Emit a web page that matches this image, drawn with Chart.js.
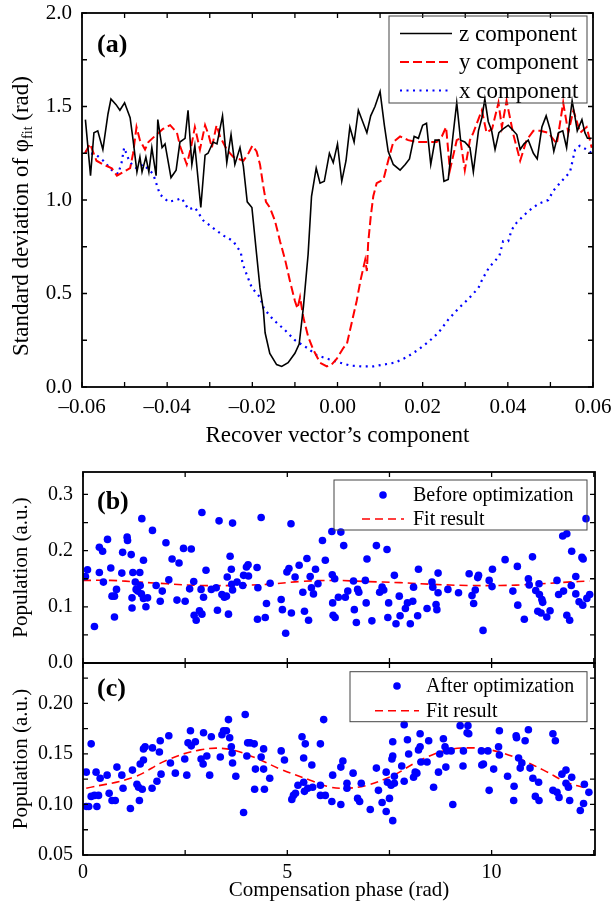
<!DOCTYPE html>
<html>
<head>
<meta charset="utf-8">
<script src="https://cdn.jsdelivr.net/npm/chart.js@4.4.1/dist/chart.umd.min.js"></script>
<style>
  html, body { margin: 0; padding: 0; background: #fff; }
  #page { position: relative; width: 611px; height: 903px; overflow: hidden; }
  canvas { position: absolute; left: 0; }
</style>
</head>
<body>
<div id="page">
  <canvas id="chartA" width="611" height="450" style="top:0px"></canvas>
  <canvas id="chartB" width="611" height="220" style="top:450px"></canvas>
  <canvas id="chartC" width="611" height="263" style="top:640px"></canvas>
</div>
<script>
// ---- panel (a): standard deviation vs recover vector's component ----
const zComponent = [
  [-0.0592,1.43],[-0.0580,1.13],[-0.0572,1.36],[-0.0563,1.37],[-0.0551,1.27],[-0.0539,1.46],[-0.0532,1.54],
  [-0.0520,1.51],[-0.0511,1.48],[-0.0500,1.52],[-0.0487,1.44],[-0.0480,1.32],[-0.0471,1.15],[-0.0464,1.23],
  [-0.0459,1.15],[-0.0450,1.23],[-0.0443,1.15],[-0.0436,1.28],[-0.0426,1.13],[-0.0422,1.43],[-0.0412,1.28],
  [-0.0405,1.30],[-0.0391,1.12],[-0.0379,1.16],[-0.0370,1.31],[-0.0358,1.33],[-0.0351,1.48],[-0.0342,1.19],
  [-0.0335,1.29],[-0.0321,0.96],[-0.0311,1.24],[-0.0304,1.25],[-0.0292,1.31],[-0.0283,1.30],[-0.0270,1.45],
  [-0.0260,1.20],[-0.0250,1.35],[-0.0241,1.19],[-0.0229,1.28],[-0.0221,1.18],[-0.0212,0.99],[-0.0201,0.96],
  [-0.0190,0.71],[-0.0182,0.53],[-0.0174,0.41],[-0.0170,0.29],[-0.0159,0.18],[-0.0143,0.12],[-0.0131,0.11],
  [-0.0116,0.13],[-0.0100,0.18],[-0.0090,0.23],[-0.0080,0.43],[-0.0069,0.71],[-0.0061,1.02],[-0.0050,1.17],
  [-0.0041,1.09],[-0.0031,1.10],[-0.0019,1.25],[-0.0010,1.20],[0.0000,1.30],[0.0010,1.10],[0.0020,1.21],
  [0.0029,1.39],[0.0039,1.31],[0.0049,1.48],[0.0059,1.42],[0.0069,1.36],[0.0078,1.45],[0.0088,1.50],
  [0.0100,1.58],[0.0110,1.40],[0.0119,1.26],[0.0131,1.19],[0.0147,1.16],[0.0159,1.19],[0.0169,1.22],
  [0.0180,1.34],[0.0190,1.33],[0.0200,1.40],[0.0209,1.41],[0.0219,1.19],[0.0229,1.32],[0.0239,1.32],
  [0.0250,1.10],[0.0260,1.11],[0.0271,1.34],[0.0280,1.52],[0.0289,1.32],[0.0299,1.31],[0.0311,1.28],
  [0.0319,1.15],[0.0331,1.37],[0.0339,1.44],[0.0346,1.54],[0.0354,1.42],[0.0362,1.37],[0.0370,1.27],
  [0.0379,1.36],[0.0389,1.38],[0.0401,1.40],[0.0413,1.37],[0.0421,1.35],[0.0429,1.27],[0.0438,1.30],
  [0.0448,1.32],[0.0460,1.25],[0.0469,1.22],[0.0480,1.39],[0.0490,1.45],[0.0499,1.38],[0.0508,1.26],
  [0.0519,1.36],[0.0529,1.37],[0.0538,1.28],[0.0546,1.44],[0.0551,1.53],[0.0558,1.44],[0.0563,1.37],
  [0.0574,1.43],[0.0581,1.36],[0.0587,1.33],[0.0597,1.33]
];
const yComponent = [
  [-0.0593,1.25],[-0.0581,1.30],[-0.0566,1.21],[-0.0550,1.19],[-0.0530,1.17],[-0.0518,1.13],[-0.0503,1.15],
  [-0.0487,1.17],[-0.0480,1.25],[-0.0472,1.39],[-0.0464,1.32],[-0.0452,1.27],[-0.0444,1.31],[-0.0425,1.35],
  [-0.0410,1.38],[-0.0393,1.40],[-0.0377,1.36],[-0.0370,1.29],[-0.0354,1.19],[-0.0344,1.28],[-0.0335,1.39],
  [-0.0323,1.27],[-0.0311,1.40],[-0.0303,1.35],[-0.0295,1.28],[-0.0284,1.40],[-0.0276,1.34],[-0.0260,1.27],
  [-0.0245,1.23],[-0.0221,1.21],[-0.0209,1.25],[-0.0200,1.29],[-0.0190,1.26],[-0.0182,1.19],[-0.0174,1.07],
  [-0.0168,0.99],[-0.0159,0.96],[-0.0147,0.89],[-0.0135,0.78],[-0.0123,0.68],[-0.0112,0.57],[-0.0100,0.46],
  [-0.0094,0.42],[-0.0088,0.48],[-0.0080,0.37],[-0.0069,0.27],[-0.0057,0.20],[-0.0041,0.13],[-0.0025,0.11],
  [-0.0014,0.12],[-0.0002,0.15],[0.0014,0.21],[0.0022,0.23],[0.0033,0.34],[0.0045,0.46],[0.0054,0.57],
  [0.0065,0.68],[0.0069,0.62],[0.0072,0.77],[0.0078,0.91],[0.0084,1.02],[0.0092,1.09],[0.0108,1.11],
  [0.0119,1.21],[0.0131,1.31],[0.0147,1.34],[0.0166,1.32],[0.0186,1.31],[0.0205,1.31],[0.0233,1.31],
  [0.0245,1.34],[0.0255,1.39],[0.0264,1.16],[0.0280,1.32],[0.0288,1.33],[0.0299,1.16],[0.0311,1.32],
  [0.0319,1.36],[0.0339,1.48],[0.0350,1.36],[0.0363,1.38],[0.0378,1.52],[0.0386,1.39],[0.0397,1.53],
  [0.0413,1.35],[0.0429,1.21],[0.0444,1.32],[0.0460,1.37],[0.0476,1.37],[0.0495,1.36],[0.0515,1.30],
  [0.0530,1.52],[0.0542,1.36],[0.0554,1.48],[0.0570,1.36],[0.0585,1.39],[0.0597,1.28]
];
const xComponent = [
  [-0.0593,1.26],[-0.0566,1.24],[-0.0550,1.21],[-0.0530,1.16],[-0.0515,1.14],[-0.0507,1.20],[-0.0501,1.28],
  [-0.0491,1.22],[-0.0483,1.19],[-0.0472,1.17],[-0.0456,1.19],[-0.0433,1.14],[-0.0417,1.03],[-0.0397,0.99],
  [-0.0378,1.00],[-0.0366,1.01],[-0.0350,0.95],[-0.0335,0.96],[-0.0315,0.89],[-0.0292,0.85],[-0.0268,0.81],
  [-0.0245,0.78],[-0.0227,0.72],[-0.0223,0.66],[-0.0213,0.60],[-0.0201,0.53],[-0.0182,0.48],[-0.0173,0.42],
  [-0.0151,0.36],[-0.0126,0.31],[-0.0100,0.25],[-0.0072,0.21],[-0.0049,0.17],[-0.0022,0.15],[0.0006,0.13],
  [0.0029,0.115],[0.0057,0.11],[0.0084,0.11],[0.0108,0.12],[0.0135,0.13],[0.0163,0.16],[0.0190,0.20],
  [0.0213,0.24],[0.0237,0.29],[0.0260,0.36],[0.0284,0.42],[0.0307,0.47],[0.0331,0.53],[0.0341,0.58],
  [0.0356,0.64],[0.0380,0.70],[0.0389,0.78],[0.0401,0.78],[0.0409,0.84],[0.0421,0.88],[0.0448,0.94],
  [0.0472,0.98],[0.0495,1.00],[0.0507,1.05],[0.0526,1.10],[0.0546,1.15],[0.0558,1.27],[0.0569,1.29],
  [0.0585,1.27],[0.0597,1.25]
];

// ---- panel (b): population before optimization ----
const beforeOpt = [
  [0.06,0.154],[0.11,0.166],[0.28,0.065],[0.40,0.206],[0.40,0.161],[0.48,0.199],[0.50,0.144],[0.60,0.220],
  [0.68,0.169],[0.71,0.119],[0.77,0.119],[0.77,0.082],[0.82,0.131],[0.95,0.160],[0.97,0.197],[1.08,0.224],
  [1.09,0.218],[1.18,0.193],[1.20,0.116],[1.20,0.098],[1.22,0.161],[1.28,0.144],[1.30,0.131],[1.34,0.128],
  [1.39,0.161],[1.40,0.138],[1.43,0.123],[1.44,0.257],[1.48,0.183],[1.48,0.115],[1.54,0.100],[1.58,0.116],
  [1.70,0.236],[1.79,0.138],[1.89,0.110],[1.94,0.128],[2.03,0.214],[2.10,0.148],[2.18,0.185],[2.30,0.112],
  [2.35,0.178],[2.46,0.204],[2.50,0.110],[2.61,0.132],[2.65,0.203],[2.71,0.145],[2.72,0.085],[2.77,0.076],
  [2.85,0.093],[2.89,0.131],[2.91,0.268],[2.91,0.087],[2.95,0.117],[3.01,0.165],[3.14,0.131],[3.26,0.134],
  [3.29,0.094],[3.33,0.253],[3.40,0.122],[3.46,0.117],[3.51,0.119],[3.53,0.153],[3.56,0.087],[3.60,0.190],
  [3.63,0.167],[3.64,0.140],[3.66,0.130],[3.66,0.249],[3.77,0.144],[3.91,0.138],[3.93,0.156],[4.00,0.171],
  [4.04,0.175],[4.05,0.155],[4.26,0.170],[4.27,0.078],[4.28,0.134],[4.36,0.259],[4.46,0.081],[4.49,0.106],
  [4.58,0.142],[4.85,0.113],[4.88,0.095],[4.96,0.053],[4.99,0.162],[5.04,0.168],[5.09,0.248],[5.10,0.089],
  [5.19,0.153],[5.29,0.174],[5.38,0.126],[5.42,0.092],[5.48,0.186],[5.52,0.076],[5.56,0.154],[5.59,0.134],
  [5.64,0.123],[5.69,0.167],[5.75,0.141],[5.86,0.218],[5.93,0.183],[6.09,0.234],[6.10,0.157],[6.11,0.107],
  [6.12,0.085],[6.16,0.150],[6.17,0.081],[6.25,0.117],[6.31,0.233],[6.38,0.209],[6.42,0.117],[6.48,0.128],
  [6.62,0.146],[6.64,0.095],[6.69,0.072],[6.72,0.131],[6.75,0.126],[6.91,0.147],[6.93,0.107],[6.95,0.185],
  [7.07,0.075],[7.18,0.209],[7.26,0.126],[7.32,0.135],[7.36,0.130],[7.44,0.202],[7.46,0.081],[7.48,0.107],
  [7.62,0.156],[7.66,0.070],[7.74,0.119],[7.76,0.084],[7.89,0.097],[7.94,0.107],[8.01,0.070],[8.07,0.110],
  [8.09,0.135],[8.19,0.084],[8.21,0.167],[8.42,0.097],[8.54,0.144],[8.56,0.135],[8.64,0.104],[8.66,0.095],
  [8.69,0.160],[8.69,0.125],[8.93,0.131],[9.19,0.125],[9.45,0.159],[9.52,0.120],[9.56,0.106],[9.60,0.130],
  [9.66,0.152],[9.68,0.156],[9.79,0.058],[9.94,0.147],[10.01,0.136],[10.02,0.167],[10.33,0.184],[10.52,0.128],
  [10.63,0.172],[10.64,0.103],[10.80,0.078],[10.90,0.150],[10.92,0.139],[11.00,0.189],[11.08,0.129],
  [11.13,0.092],[11.16,0.141],[11.17,0.122],[11.21,0.089],[11.23,0.113],[11.25,0.108],[11.35,0.082],
  [11.43,0.093],[11.60,0.147],[11.64,0.122],[11.74,0.226],[11.76,0.128],[11.84,0.230],[11.84,0.085],
  [11.91,0.076],[11.95,0.138],[11.96,0.199],[12.06,0.154],[12.06,0.123],[12.14,0.109],[12.21,0.188],
  [12.23,0.103],[12.24,0.185],[12.31,0.257],[12.33,0.115],[12.40,0.122]
];
const fitBefore = [
  [0,0.147],[0.67,0.147],[1.40,0.144],[2.06,0.141],[2.87,0.138],[3.68,0.138],[4.50,0.140],[5.30,0.145],
  [6.10,0.147],[6.95,0.145],[7.76,0.143],[8.56,0.140],[9.40,0.138],[10.20,0.138],[11.00,0.140],
  [11.85,0.144],[12.40,0.146]
];

// ---- panel (c): population after optimization ----
const afterOpt = [
  [0.08,0.132],[0.08,0.098],[0.14,0.098],[0.20,0.160],[0.20,0.108],[0.28,0.109],[0.32,0.132],[0.34,0.098],
  [0.38,0.109],[0.42,0.126],[0.59,0.129],[0.64,0.111],[0.71,0.104],[0.79,0.104],[0.83,0.137],[0.95,0.129],
  [0.98,0.116],[1.16,0.096],[1.21,0.134],[1.32,0.120],[1.36,0.117],[1.38,0.104],[1.40,0.140],[1.45,0.115],
  [1.48,0.144],[1.48,0.155],[1.52,0.157],[1.69,0.116],[1.70,0.156],[1.81,0.123],[1.87,0.152],[1.89,0.163],
  [1.91,0.130],[2.10,0.168],[2.14,0.141],[2.26,0.131],[2.49,0.145],[2.54,0.129],[2.57,0.161],[2.63,0.173],
  [2.65,0.158],[2.75,0.162],[2.89,0.145],[2.94,0.140],[2.95,0.171],[3.03,0.148],[3.10,0.129],[3.14,0.167],
  [3.36,0.147],[3.40,0.169],[3.44,0.173],[3.51,0.173],[3.56,0.184],[3.59,0.166],[3.63,0.157],[3.65,0.151],
  [3.66,0.141],[3.74,0.128],[3.93,0.092],[3.97,0.189],[4.01,0.148],[4.03,0.161],[4.09,0.161],[4.19,0.160],
  [4.22,0.135],[4.20,0.115],[4.36,0.147],[4.42,0.155],[4.42,0.135],[4.44,0.115],[4.57,0.126],[4.85,0.153],
  [4.93,0.144],[5.11,0.105],[5.15,0.109],[5.20,0.111],[5.26,0.119],[5.36,0.167],[5.40,0.146],[5.40,0.122],
  [5.42,0.113],[5.44,0.160],[5.50,0.116],[5.60,0.139],[5.62,0.117],[5.81,0.160],[5.81,0.119],[5.81,0.109],
  [5.89,0.184],[5.93,0.109],[6.09,0.103],[6.11,0.129],[6.31,0.100],[6.31,0.137],[6.36,0.143],[6.46,0.121],
  [6.46,0.116],[6.61,0.131],[6.72,0.106],[6.77,0.103],[6.81,0.121],[7.03,0.095],[7.18,0.136],[7.23,0.114],
  [7.32,0.102],[7.42,0.093],[7.42,0.132],[7.45,0.122],[7.50,0.106],[7.54,0.119],[7.56,0.145],[7.58,0.148],
  [7.58,0.084],[7.58,0.162],[7.62,0.128],[7.62,0.121],[7.80,0.138],[7.86,0.179],[7.86,0.123],[7.94,0.164],
  [7.97,0.150],[8.09,0.127],[8.13,0.132],[8.17,0.131],[8.21,0.154],[8.25,0.157],[8.25,0.170],[8.27,0.142],
  [8.42,0.142],[8.46,0.163],[8.58,0.117],[8.70,0.132],[8.73,0.150],[8.82,0.165],[8.86,0.157],[8.88,0.137],
  [8.90,0.153],[9.01,0.153],[9.05,0.100],[9.23,0.178],[9.31,0.153],[9.30,0.138],[9.42,0.178],[9.40,0.171],
  [9.44,0.170],[9.75,0.153],[9.76,0.139],[9.80,0.140],[9.91,0.153],[9.94,0.114],[10.05,0.135],[10.17,0.157],
  [10.19,0.149],[10.19,0.173],[10.39,0.128],[10.54,0.104],[10.55,0.118],[10.60,0.168],[10.61,0.166],
  [10.66,0.146],[10.70,0.136],[10.74,0.141],[10.82,0.163],[10.90,0.174],[10.94,0.136],[11.01,0.126],
  [11.07,0.108],[11.15,0.122],[11.16,0.104],[11.50,0.170],[11.50,0.114],[11.56,0.163],[11.60,0.112],
  [11.65,0.107],[11.72,0.130],[11.82,0.134],[11.82,0.121],[11.88,0.117],[11.91,0.104],[11.96,0.127],
  [12.17,0.094],[12.25,0.101],[12.27,0.120],[12.38,0.112]
];
const fitAfter = [
  [0.08,0.116],[1.24,0.127],[2.06,0.144],[2.87,0.154],[3.52,0.155],[4.17,0.147],[4.83,0.135],[5.56,0.124],
  [5.97,0.118],[6.38,0.116],[6.95,0.119],[7.60,0.129],[8.17,0.142],[8.82,0.153],[9.40,0.156],[9.97,0.154],
  [10.62,0.146],[11.27,0.134],[11.84,0.122],[12.33,0.116]
];

const FONT = "'Liberation Serif', 'Times New Roman', serif";
Chart.defaults.font.family = FONT;
Chart.defaults.color = '#000';

const pts = arr => arr.map(p => ({ x: p[0], y: p[1] }));
const keepMultiples = step => s => {
  s.ticks = s.ticks.filter(t => Math.abs(t.value / step - Math.round(t.value / step)) < 1e-6);
};
const dashNum = (v, d) => {
  if (Math.abs(v) < 1e-9) v = 0;
  return (v < 0 ? '\u2013' : '') + Math.abs(v).toFixed(d);
};
// fixed axis sizes, and no extra room for labels hanging past the plot
const fixWidth = w => s => { s.width = w; s.paddingTop = 0; s.paddingBottom = 0; s.paddingLeft = 0; s.paddingRight = 0; };
const fixHeight = h => s => { s.height = h; s.paddingTop = 0; s.paddingBottom = 0; s.paddingLeft = 0; s.paddingRight = 0; };

// box with inward ticks on all four sides
const framePlugin = {
  id: 'frame',
  afterDatasetsDraw(chart, args, o) {
    const { ctx, chartArea: a, scales: { x, y } } = chart;
    const steps = (min, max, st) => {
      const out = [];
      for (let i = Math.ceil(min / st - 1e-6); i * st <= max + 1e-9; i++) out.push(i * st);
      return out;
    };
    ctx.save();
    ctx.strokeStyle = '#000';
    ctx.lineWidth = 1.3;
    ctx.beginPath();
    steps(x.min, x.max, o.xStep).forEach(v => {
      const p = x.getPixelForValue(v);
      ctx.moveTo(p, a.bottom); ctx.lineTo(p, a.bottom - o.len);
      ctx.moveTo(p, a.top); ctx.lineTo(p, a.top + o.len);
    });
    steps(y.min, y.max, o.yStep).forEach(v => {
      const p = y.getPixelForValue(v);
      ctx.moveTo(a.left, p); ctx.lineTo(a.left + o.len, p);
      ctx.moveTo(a.right, p); ctx.lineTo(a.right - o.len, p);
    });
    ctx.stroke();
    ctx.lineWidth = 1.8;
    ctx.strokeRect(a.left, a.top, a.right - a.left, a.bottom - a.top);
    ctx.restore();
  }
};

// framed legend inside the plot + the panel letter
const boxLegend = {
  id: 'boxLegend',
  afterDraw(chart, args, o) {
    const { ctx, chartArea: a } = chart;
    ctx.save();
    ctx.font = `bold ${o.tagSize}px ${FONT}`;
    ctx.fillStyle = '#000';
    ctx.textBaseline = 'middle';
    ctx.fillText(o.tag, a.left + o.tagX, a.top + o.tagY);

    const bx = a.right - o.right - o.width, by = a.top + o.top;
    ctx.strokeStyle = '#444';
    ctx.lineWidth = 1;
    ctx.strokeRect(bx, by, o.width, o.height);
    ctx.font = `${o.size}px ${FONT}`;
    chart.data.datasets.forEach((ds, i) => {
      const ry = by + o.rows[i];
      const x1 = bx + o.sample[0], x2 = bx + o.sample[1];
      if (ds.showLine) {
        ctx.beginPath();
        ctx.strokeStyle = ds.borderColor;
        ctx.lineWidth = ds.borderWidth;
        ctx.setLineDash(ds.borderDash || []);
        ctx.moveTo(x1, ry); ctx.lineTo(x2, ry);
        ctx.stroke();
        ctx.setLineDash([]);
      } else {
        ctx.beginPath();
        ctx.fillStyle = ds.backgroundColor;
        ctx.arc((x1 + x2) / 2, ry, ds.pointRadius, 0, Math.PI * 2);
        ctx.fill();
      }
      ctx.fillStyle = '#000';
      ctx.fillText(ds.label, bx + o.textX, ry + 1);
    });
    ctx.restore();
  }
};

// y title of panel (a) with the subscript "fit"
const phiTitle = {
  id: 'phiTitle',
  afterDraw(chart, args, o) {
    if (!o.parts) return;
    const { ctx, chartArea: a } = chart;
    ctx.save();
    ctx.translate(o.x, (a.top + a.bottom) / 2 + o.dy);
    ctx.rotate(-Math.PI / 2);
    ctx.textBaseline = 'middle';
    ctx.fillStyle = '#000';
    const parts = o.parts.map((t, i) => ({ t, size: i === 1 ? o.subSize : o.size, shift: i === 1 ? o.subShift : 0 }));
    let total = 0;
    parts.forEach(p => { ctx.font = `${p.size}px ${FONT}`; p.w = ctx.measureText(p.t).width; total += p.w; });
    let cx = -total / 2;
    parts.forEach(p => { ctx.font = `${p.size}px ${FONT}`; ctx.fillText(p.t, cx, p.shift); cx += p.w; });
    ctx.restore();
  }
};

const noGrid = { display: false, drawTicks: false };

new Chart(document.getElementById('chartA'), {
  type: 'scatter',
  data: {
    datasets: [
      { label: 'z component', data: pts(zComponent), showLine: true, borderColor: '#000', borderWidth: 1.6, pointRadius: 0 },
      { label: 'y component', data: pts(yComponent), showLine: true, borderColor: '#ff0000', borderWidth: 2, borderDash: [9, 4], pointRadius: 0 },
      { label: 'x component', data: pts(xComponent), showLine: true, borderColor: '#0000ff', borderWidth: 2.2, borderDash: [2, 4.5], pointRadius: 0 }
    ]
  },
  options: {
    responsive: false, animation: false, devicePixelRatio: 1,
    layout: { padding: { top: 13, right: 18, bottom: 0, left: 0 } },
    scales: {
      x: {
        min: -0.06, max: 0.06,
        afterBuildTicks: keepMultiples(0.02),
        afterFit: fixHeight(63),
        grid: noGrid, border: { display: false },
        ticks: { stepSize: 0.02, padding: 8, font: { size: 21 }, callback: v => dashNum(v, 2) },
        title: { display: true, text: 'Recover vector\u2019s component', font: { size: 23 }, padding: { top: 0, bottom: 0 } }
      },
      y: {
        min: 0, max: 2,
        afterBuildTicks: keepMultiples(0.5),
        afterFit: fixWidth(82),
        grid: noGrid, border: { display: false },
        ticks: { stepSize: 0.5, padding: 10, font: { size: 21 }, callback: v => v.toFixed(1) }
      }
    },
    plugins: {
      legend: { display: false }, tooltip: { enabled: false },
      frame: { xStep: 0.01, yStep: 0.25, len: 5 },
      boxLegend: { tag: '(a)', tagSize: 26, tagX: 15, tagY: 32, right: 6, top: 3, width: 198, height: 87,
                   rows: [17.5, 46, 74.5], sample: [11, 63], textX: 70, size: 23 },
      phiTitle: { parts: ['Standard deviation of \u03c6', 'fit', ' (rad)'], x: 22, dy: 16, size: 23, subSize: 14, subShift: 6 }
    }
  },
  plugins: [framePlugin, boxLegend, phiTitle]
});

new Chart(document.getElementById('chartB'), {
  type: 'scatter',
  data: {
    datasets: [
      { label: 'Before optimization', data: pts(beforeOpt), backgroundColor: '#0000ff', borderWidth: 0, pointRadius: 3.8 },
      { label: 'Fit result', data: pts(fitBefore), showLine: true, borderColor: '#ff0000', borderWidth: 1.6, borderDash: [8, 5], pointRadius: 0, tension: 0.4 }
    ]
  },
  options: {
    responsive: false, animation: false, devicePixelRatio: 1,
    layout: { padding: { top: 22, right: 16, bottom: 7, left: 0 } },
    scales: {
      x: {
        min: 0, max: 12.53,
        afterFit: fixHeight(0),
        grid: noGrid, border: { display: false },
        ticks: { display: false, stepSize: 5 }
      },
      y: {
        min: 0, max: 0.34,
        afterBuildTicks: keepMultiples(0.1),
        afterFit: fixWidth(83),
        grid: noGrid, border: { display: false },
        ticks: { stepSize: 0.1, padding: 10, font: { size: 20 }, callback: v => v.toFixed(1) },
        title: { display: true, text: 'Population (a.u.)', font: { size: 21 }, padding: { top: 9, bottom: 0 } }
      }
    },
    plugins: {
      legend: { display: false }, tooltip: { enabled: false },
      frame: { xStep: 2.5, yStep: 0.05, len: 5 },
      boxLegend: { tag: '(b)', tagSize: 26, tagX: 14, tagY: 30, right: 8, top: 8, width: 253, height: 50,
                   rows: [15, 39], sample: [28, 70], textX: 79, size: 20 }
    }
  },
  plugins: [framePlugin, boxLegend]
});

new Chart(document.getElementById('chartC'), {
  type: 'scatter',
  data: {
    datasets: [
      { label: 'After optimization', data: pts(afterOpt), backgroundColor: '#0000ff', borderWidth: 0, pointRadius: 3.8 },
      { label: 'Fit result', data: pts(fitAfter), showLine: true, borderColor: '#ff0000', borderWidth: 1.6, borderDash: [8, 5], pointRadius: 0, tension: 0.4 }
    ]
  },
  options: {
    responsive: false, animation: false, devicePixelRatio: 1,
    layout: { padding: { top: 23, right: 16, bottom: 0, left: 0 } },
    scales: {
      x: {
        min: 0, max: 12.53,
        afterBuildTicks: keepMultiples(5),
        afterFit: fixHeight(48),
        grid: noGrid, border: { display: false },
        ticks: { stepSize: 5, padding: 6, font: { size: 20 }, callback: v => String(Math.round(v)) },
        title: { display: true, text: 'Compensation phase (rad)', font: { size: 21 }, padding: { top: 0, bottom: 0 } }
      },
      y: {
        min: 0.05, max: 0.24,
        afterBuildTicks: keepMultiples(0.05),
        afterFit: fixWidth(83),
        grid: noGrid, border: { display: false },
        ticks: { stepSize: 0.05, padding: 10, font: { size: 20 }, callback: v => v.toFixed(2) },
        title: { display: true, text: 'Population (a.u.)', font: { size: 21 }, padding: { top: 9, bottom: 0 } }
      }
    },
    plugins: {
      legend: { display: false }, tooltip: { enabled: false },
      frame: { xStep: 2.5, yStep: 0.025, len: 5 },
      boxLegend: { tag: '(c)', tagSize: 26, tagX: 14, tagY: 26, right: 8, top: 8.7, width: 237, height: 50,
                   rows: [14.3, 39], sample: [25, 69], textX: 76, size: 20 }
    }
  },
  plugins: [framePlugin, boxLegend]
});
</script>
</body>
</html>
